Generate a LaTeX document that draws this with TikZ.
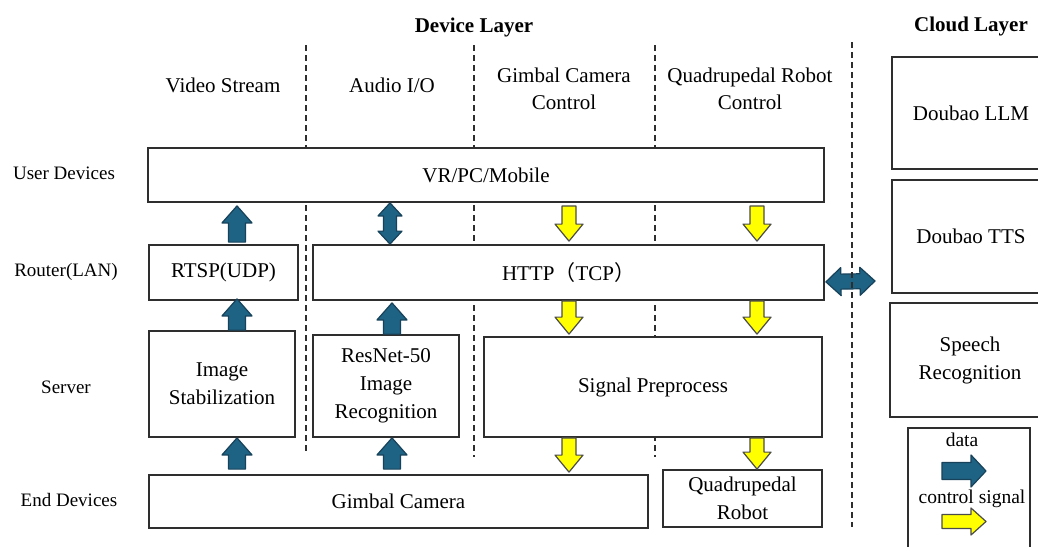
\documentclass[tikz,border=0pt]{standalone}
\usepackage{fontspec}
\setmainfont{Liberation Serif}
\newfontfamily\cjk{Noto Sans CJK SC}
\usetikzlibrary{calc}
\definecolor{datablue}{HTML}{1F6384}
\definecolor{dataedge}{HTML}{17425A}
\definecolor{ctrlyellow}{HTML}{FFFF00}
\definecolor{boxline}{HTML}{2E2E2E}
\tikzset{
 box/.style={draw=boxline, line width=1.8pt, fill=white, align=center, inner sep=0pt, font=\fontsize{21}{28}\selectfont},
 rowlabel/.style={font=\fontsize{19}{24}\selectfont},
 collabel/.style={align=center, font=\fontsize{21}{27}\selectfont},
 legendtext/.style={font=\fontsize{19.5}{24}\selectfont},
 layertitle/.style={font=\bfseries\fontsize{21}{25}\selectfont},
 sep/.style={draw=boxline, line width=1.3pt, dash pattern=on 6pt off 4pt},
 dataarr/.style={fill=datablue, draw=dataedge, line width=1.2pt, line join=round},
 ctrlarr/.style={fill=ctrlyellow, draw=black!70, line width=1.2pt, line join=round},
}
% block arrow: style, from, to, shaft half width, head half width, head length
\newcommand\barrow[6]{%
  \coordinate (ba-s) at (#2);
  \coordinate (ba-t) at (#3);
  \coordinate (ba-h) at ($(ba-t)!#6!(ba-s)$);
  \draw[#1] ($(ba-s)!#4!90:(ba-t)$) -- ($(ba-h)!#4!-90:(ba-s)$) -- ($(ba-h)!#5!-90:(ba-s)$)
    -- (ba-t) -- ($(ba-h)!#5!90:(ba-s)$) -- ($(ba-h)!#4!90:(ba-s)$) -- ($(ba-s)!#4!-90:(ba-t)$) -- cycle;}
% double block arrow
\newcommand\dbarrow[6]{%
  \coordinate (ba-s) at (#2);
  \coordinate (ba-t) at (#3);
  \coordinate (ba-h1) at ($(ba-s)!#6!(ba-t)$);
  \coordinate (ba-h2) at ($(ba-t)!#6!(ba-s)$);
  \draw[#1] (ba-s) -- ($(ba-h1)!#5!90:(ba-t)$) -- ($(ba-h1)!#4!90:(ba-t)$)
    -- ($(ba-h2)!#4!-90:(ba-s)$) -- ($(ba-h2)!#5!-90:(ba-s)$) -- (ba-t)
    -- ($(ba-h2)!#5!90:(ba-s)$) -- ($(ba-h2)!#4!90:(ba-s)$)
    -- ($(ba-h1)!#4!-90:(ba-t)$) -- ($(ba-h1)!#5!-90:(ba-t)$) -- cycle;}

\begin{document}
\begin{tikzpicture}[x=1pt,y=-1pt]
\useasboundingbox (0,0) rectangle (1038,546);
\clip (0,0) rectangle (1038,546);
\fill[white] (0,0) rectangle (1038,546);

% column positions of the arrows
\coordinate (cA) at (237,0);
\coordinate (cB) at (390,0);
\coordinate (cC) at (569,0);
\coordinate (cD) at (757,0);

% titles
\node[layertitle] (devtitle) at (474,27) {Device Layer};
\node[layertitle] (cloudtitle) at (971,26) {Cloud Layer};

% column labels
\node[collabel] (colvideo) at (223,85) {Video Stream};
\node[collabel] (colaudio) at (392,85) {Audio I/O};
\node[collabel] (colgimbal) at (564,89) {Gimbal Camera\\Control};
\node[collabel] (colquad) at (750,89) {Quadrupedal Robot\\Control};

% row labels
\node[rowlabel] (rowuser) at (64,173) {User Devices};
\node[rowlabel] (rowrouter) at (66,272) {Router(LAN)};
\node[rowlabel] (rowserver) at (66,387) {Server};
\node[rowlabel] (rowend) at (69,500) {End Devices};

% separators
\draw[sep] (306,45) -- (306,453);
\draw[sep] (474,45) -- (474,457);
\draw[sep] (655,45) -- (655,457);

% device boxes
\node[box, minimum width=676pt, minimum height=54pt] (vr) at (486,175) {VR/PC/Mobile};
\node[box, minimum width=149pt, minimum height=55pt] (rtsp) at (223.5,272.5) {RTSP(UDP)};
\node[box, minimum width=511pt, minimum height=55pt] (http) at (568.5,272.5) {HTTP{\cjk （}TCP{\cjk ）}};
\node[box, minimum width=146pt, minimum height=106pt] (stab) at (222,384) {Image\\Stabilization};
\node[box, minimum width=146pt, minimum height=102pt] (resnet) at (386,386) {ResNet-50\\Image\\Recognition};
\node[box, minimum width=338pt, minimum height=100pt] (signal) at (653,387) {Signal Preprocess};
\node[box, minimum width=499pt, minimum height=53pt] (gimbal) at (398.5,501.5) {Gimbal Camera};
\node[box, minimum width=159pt, minimum height=57pt] (quad) at (742.5,498.5) {Quadrupedal\\Robot};

% cloud boxes
\node[box, minimum width=158pt, minimum height=112pt] (llm) at (971,113) {Doubao LLM};
\node[box, minimum width=158pt, minimum height=113pt] (tts) at (971,236.5) {Doubao TTS};
\node[box, minimum width=160pt, minimum height=114pt] (speech) at (970,360) {Speech\\Recognition};
\node[box, minimum width=122pt, minimum height=140pt] (legend) at (969,498) {};

% arrows user <-> router
\barrow{dataarr}{$(rtsp.north -| cA)+(0,-2)$}{$(vr.south -| cA)+(0,3)$}{8.5pt}{15pt}{17pt}
\dbarrow{dataarr}{$(http.north -| cB)$}{$(vr.south -| cB)$}{6.5pt}{12pt}{13pt}
\barrow{ctrlarr}{$(vr.south -| cC)+(0,3)$}{$(http.north -| cC)+(0,-3)$}{7pt}{14pt}{17pt}
\barrow{ctrlarr}{$(vr.south -| cD)+(0,3)$}{$(http.north -| cD)+(0,-3)$}{7pt}{14pt}{17pt}

% arrows router <-> server
\barrow{dataarr}{$(stab.north -| cA)$}{$(rtsp.south -| cA)+(0,-2)$}{8.5pt}{15pt}{17pt}
\barrow{dataarr}{$(resnet.north -| cB)+(2,0)$}{$(http.south -| cB)+(2,2)$}{8.5pt}{15pt}{17pt}
\barrow{ctrlarr}{$(http.south -| cC)+(0,0)$}{$(signal.north -| cC)+(0,-2)$}{7pt}{14pt}{17pt}
\barrow{ctrlarr}{$(http.south -| cD)+(0,0)$}{$(signal.north -| cD)+(0,-2)$}{7pt}{14pt}{17pt}

% arrows server <-> end devices
\barrow{dataarr}{$(gimbal.north -| cA)+(0,-5)$}{$(stab.south -| cA)$}{8.5pt}{15pt}{17pt}
\barrow{dataarr}{$(gimbal.north -| cB)+(2,-5)$}{$(resnet.south -| cB)+(2,0)$}{8.5pt}{15pt}{17pt}
\barrow{ctrlarr}{$(signal.south -| cC)$}{$(gimbal.north -| cC)+(0,-2)$}{7pt}{14pt}{17pt}
\barrow{ctrlarr}{$(signal.south -| cD)$}{$(quad.north -| cD)$}{7pt}{14pt}{17pt}

% device <-> cloud
\coordinate (cloudlink) at (875,281);
\dbarrow{dataarr}{$(http.south east)+(1,-19)$}{cloudlink}{7.5pt}{14pt}{15pt}
\draw[sep] (852,42) -- (852,527);

% legend
\node[legendtext] (legdata) at (962,440) {data};
\node[legendtext] (legctrl) at (972,499) {control signal};
\coordinate (ld1) at (942,471);
\coordinate (ld2) at (986,471);
\coordinate (lc1) at (942,521.5);
\coordinate (lc2) at (986,521.5);
\barrow{dataarr}{ld1}{ld2}{8.5pt}{16pt}{15pt}
\barrow{ctrlarr}{lc1}{lc2}{7pt}{13.5pt}{15pt}
\end{tikzpicture}
\end{document}
